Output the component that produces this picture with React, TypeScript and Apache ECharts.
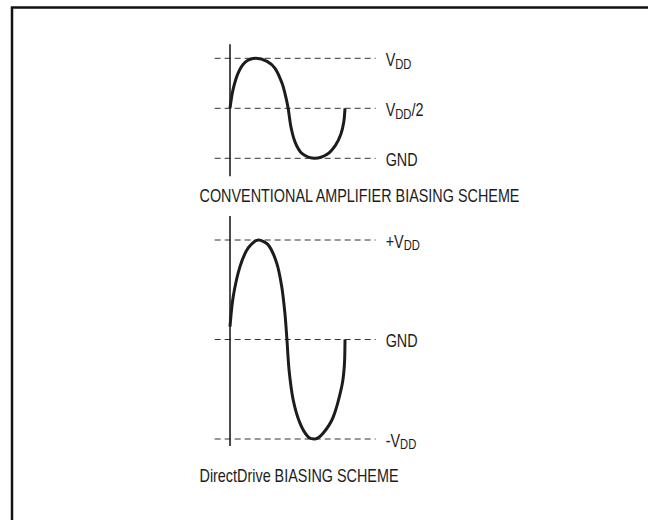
import React, { useEffect, useRef } from 'react';
import * as echarts from 'echarts';

// Waveform readings: phase in degrees, level in supply units
const topPhase = [0, 9, 25, 47, 81, 116, 141, 163, 175, 182, 191, 204, 225, 266, 304, 330, 347, 356, 360];
const topLevel = [0.5, 0.68, 0.85, 0.96, 1.0, 0.97, 0.9, 0.75, 0.61, 0.5, 0.31, 0.16, 0.05, 0, 0.04, 0.13, 0.24, 0.36, 0.5];
const bottomPhase = [0, 10, 31, 57, 89, 120, 146, 162, 172, 178, 185, 198, 219, 245, 266, 292, 323, 350, 358, 360];
const bottomLevel = [0.13, 0.43, 0.73, 0.92, 1.0, 0.95, 0.77, 0.53, 0.26, 0.01, -0.31, -0.61, -0.84, -0.98, -1.0, -0.94, -0.78, -0.47, -0.26, 0];

// Reference levels and their labels
const topRefLevels = [1, 0.5, 0];
const topRefLabels = ['{v|V}{s|DD}', '{v|V}{s|DD}{v|/2}', '{v|GND}'];
const bottomRefLevels = [1, 0, -1];
const bottomRefLabels = ['{v|+V}{s|DD}', '{v|GND}', '{v|-V}{s|DD}'];
const captions = ['CONVENTIONAL AMPLIFIER BIASING SCHEME', 'DirectDrive BIASING SCHEME'];

const phaseRange = [-48, 456];
const topAxisSpan = [-0.18, 1.14];
const bottomAxisSpan = [-1.07, 1.24];

const FONT = "'Liberation Sans', Arial, sans-serif";
const INK = '#1c1c1c';
const NARROW = 0.8;

const rich = {
  v: { fontSize: 18, fontFamily: FONT, fill: INK },
  s: { fontSize: 14, fontFamily: FONT, fill: INK, padding: [10, 0, 0, 0] },
};

function refSeries(levels: number[], gi: number) {
  return levels.map((lv) => ({
    type: 'line',
    xAxisIndex: gi,
    yAxisIndex: gi,
    silent: true,
    symbol: 'none',
    data: [[phaseRange[0], lv], [phaseRange[1], lv]],
    lineStyle: { color: '#333', width: 1, type: [6, 4] },
  }));
}

function axisSeries(span: number[], gi: number) {
  return {
    type: 'line',
    xAxisIndex: gi,
    yAxisIndex: gi,
    silent: true,
    symbol: 'none',
    data: [[0, span[0]], [0, span[1]]],
    lineStyle: { color: '#111', width: 1.5 },
  };
}

function waveSeries(px: number[], py: number[], gi: number) {
  return {
    type: 'line',
    xAxisIndex: gi,
    yAxisIndex: gi,
    silent: true,
    symbol: 'none',
    smooth: 0.3,
    data: px.map((x, i) => [x, py[i]]),
    lineStyle: { color: INK, width: 3 },
  };
}

export default function App() {
  const ref = useRef<HTMLDivElement>(null);
  useEffect(() => {
    if (!ref.current) return;
    const chart = echarts.init(ref.current, undefined, { renderer: 'svg' });
    const k = 115 / 360;
    const gridLeft = 230 + phaseRange[0] * k;
    const gridWidth = (phaseRange[1] - phaseRange[0]) * k;
    const hiddenX = (gi: number) => ({
      type: 'value', gridIndex: gi, min: phaseRange[0], max: phaseRange[1], show: false,
    });
    chart.setOption({
      animation: false,
      backgroundColor: '#fff',
      grid: [
        { left: gridLeft, width: gridWidth, top: 158.3 - 1.2 * 100, height: 140 },
        { left: gridLeft, width: gridWidth, top: 339.5 - 1.3 * 99.5, height: 2.5 * 99.5 },
      ],
      xAxis: [hiddenX(0), hiddenX(1)],
      yAxis: [
        { type: 'value', gridIndex: 0, min: -0.2, max: 1.2, show: false },
        { type: 'value', gridIndex: 1, min: -1.2, max: 1.3, show: false },
      ],
      series: [
        ...refSeries(topRefLevels, 0),
        axisSeries(topAxisSpan, 0),
        waveSeries(topPhase, topLevel, 0),
        ...refSeries(bottomRefLevels, 1),
        axisSeries(bottomAxisSpan, 1),
        waveSeries(bottomPhase, bottomLevel, 1),
      ],
    });

    const labelTexts = (levels: number[], labels: string[], gi: number) =>
      levels.map((lv, i) => {
        const p = chart.convertToPixel({ gridIndex: gi }, [phaseRange[1], lv]) as number[];
        return {
          type: 'text',
          silent: true,
          x: p[0] + 10,
          y: p[1] + 1,
          scaleX: NARROW,
          style: {
            text: labels[i],
            rich,
            font: `18px ${FONT}`,
            fill: INK,
            align: 'left',
            verticalAlign: 'middle',
          },
        };
      });

    const captionText = (text: string, y: number) => ({
      type: 'text',
      silent: true,
      x: 199.5,
      y,
      scaleX: NARROW,
      style: {
        text,
        font: `18px ${FONT}`,
        fill: INK,
        align: 'left',
        verticalAlign: 'middle',
      },
    });

    chart.setOption({
      graphic: [
        {
          type: 'polyline',
          silent: true,
          shape: { points: [[12, 530], [12, 7.5], [660, 7.5]] },
          style: { stroke: '#111', lineWidth: 2.5, fill: null },
        },
        ...labelTexts(topRefLevels, topRefLabels, 0),
        ...labelTexts(bottomRefLevels, bottomRefLabels, 1),
        captionText(captions[0], 195),
        captionText(captions[1], 475),
      ],
    });
    return () => chart.dispose();
  }, []);
  return (
    <div
      ref={ref}
      style={{ position: 'fixed', left: 0, top: 0, width: 648, height: 520, background: '#fff' }}
    />
  );
}
